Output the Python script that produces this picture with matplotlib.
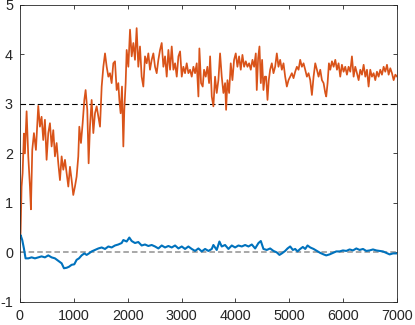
import numpy as np
import matplotlib
matplotlib.use('Agg')
import matplotlib.pyplot as plt

# ── Data ─────────────────────────────────────────────────────────────────
orange_x = [0, 12, 31, 50, 74, 93, 124, 155, 186, 204, 229, 260, 297, 340, 371,
            402, 433, 464, 495, 526, 557, 588, 619, 650, 681, 712, 743, 774, 805,
            836, 867, 898, 929, 960, 990, 1021, 1052, 1083, 1102, 1133, 1164,
            1195, 1219, 1250, 1275, 1300, 1331, 1362, 1393, 1424, 1455, 1486,
            1517, 1548, 1579, 1610, 1641, 1671, 1702, 1733, 1764, 1795, 1826,
            1845, 1869, 1894, 1919, 1937, 1962, 1981, 2012, 2043, 2074, 2105,
            2135, 2166, 2197, 2228, 2259, 2290, 2321, 2352, 2383, 2414, 2445,
            2476, 2507, 2538, 2569, 2600, 2631, 2662, 2693, 2724, 2755, 2786,
            2817, 2848, 2879, 2910, 2941, 2972, 3003, 3033, 3064, 3095, 3126,
            3157, 3188, 3219, 3250, 3281, 3312, 3330, 3361, 3392, 3417, 3448,
            3479, 3510, 3529, 3560, 3590, 3621, 3652, 3683, 3714, 3745, 3776,
            3807, 3826, 3851, 3882, 3912, 3943, 3974, 4005, 4036, 4067, 4098,
            4129, 4160, 4191, 4222, 4253, 4284, 4315, 4346, 4377, 4395, 4420,
            4445, 4470, 4494, 4519, 4544, 4569, 4594, 4618, 4643, 4674, 4705,
            4736, 4767, 4798, 4829, 4860, 4891, 4922, 4953, 4984, 5015, 5046,
            5077, 5108, 5139, 5170, 5201, 5232, 5263, 5294, 5325, 5356, 5387,
            5418, 5449, 5480, 5511, 5542, 5573, 5604, 5635, 5666, 5684, 5709,
            5734, 5759, 5790, 5821, 5852, 5883, 5913, 5944, 5975, 6006, 6037,
            6068, 6099, 6130, 6161, 6192, 6223, 6254, 6285, 6316, 6347, 6378,
            6409, 6440, 6470, 6501, 6532, 6563, 6594, 6625, 6656, 6687, 6718,
            6749, 6780, 6811, 6842, 6873, 6904, 6935, 6966, 7000]
orange_y = [0.30, 0.39, 1.33, 1.60, 2.40, 2.00, 2.85, 1.94, 1.33, 0.87, 2.07,
            2.41, 2.07, 2.96, 2.54, 2.74, 2.27, 2.68, 1.87, 2.41, 2.61, 2.14,
            2.47, 1.94, 2.21, 1.80, 1.46, 1.94, 1.67, 1.87, 1.60, 1.33, 1.73,
            1.46, 1.16, 1.33, 1.53, 1.94, 2.54, 2.21, 2.61, 3.08, 3.28, 2.88,
            1.80, 2.54, 3.08, 2.41, 2.81, 2.95, 2.74, 2.54, 3.35, 3.75, 4.02,
            3.75, 3.55, 3.62, 3.42, 3.82, 3.86, 3.28, 3.42, 3.08, 2.81, 3.35,
            2.14, 2.88, 3.42, 4.09, 3.75, 4.50, 3.96, 4.23, 3.89, 4.53, 3.75,
            4.16, 3.55, 3.35, 3.96, 3.82, 4.02, 3.69, 3.89, 4.02, 3.75, 3.62,
            3.89, 4.09, 4.23, 3.75, 3.96, 3.55, 4.09, 3.69, 4.16, 3.69, 3.82,
            3.55, 3.96, 4.06, 3.55, 3.75, 3.62, 3.82, 3.62, 3.69, 3.55, 3.75,
            3.62, 3.82, 3.15, 4.12, 3.42, 3.35, 3.69, 3.55, 3.75, 3.42, 3.96,
            3.15, 2.95, 3.55, 3.22, 3.48, 4.02, 3.55, 3.22, 3.42, 2.88, 3.48,
            3.22, 3.82, 3.48, 3.89, 4.02, 3.75, 3.96, 3.69, 3.99, 3.75, 3.86,
            3.75, 3.82, 3.69, 3.89, 3.75, 4.02, 3.28, 3.92, 4.16, 3.42, 3.89,
            3.28, 3.55, 3.55, 3.08, 3.48, 3.69, 3.82, 3.62, 3.75, 4.02, 3.75,
            3.89, 3.69, 3.82, 3.55, 3.35, 3.48, 3.55, 3.62, 3.52, 3.65, 3.75,
            3.69, 3.89, 3.75, 3.82, 3.69, 3.55, 3.62, 3.48, 3.18, 3.55, 3.82,
            3.69, 3.55, 3.69, 3.48, 3.42, 3.22, 3.15, 3.42, 3.82, 3.69, 3.86,
            3.75, 3.89, 3.69, 3.82, 3.55, 3.79, 3.65, 3.75, 3.59, 3.75, 3.65,
            3.96, 3.55, 3.75, 3.62, 3.48, 3.69, 3.59, 3.79, 3.55, 3.69, 3.35,
            3.69, 3.55, 3.62, 3.48, 3.65, 3.55, 3.69, 3.59, 3.75, 3.65, 3.79,
            3.59, 3.72, 3.62, 3.48, 3.59, 3.55]

blue_x = [0, 12, 43, 74, 105, 155, 217, 279, 341, 402, 464, 526, 588, 650, 712,
          774, 817, 867, 910, 960, 1009, 1052, 1096, 1145, 1195, 1238, 1281,
          1331, 1393, 1455, 1517, 1579, 1641, 1702, 1764, 1826, 1888, 1919,
          1981, 2030, 2074, 2135, 2197, 2259, 2321, 2383, 2445, 2507, 2569,
          2631, 2693, 2755, 2817, 2879, 2941, 3003, 3064, 3126, 3188, 3250,
          3312, 3374, 3436, 3498, 3560, 3590, 3652, 3702, 3745, 3807, 3869,
          3931, 3993, 4055, 4117, 4179, 4241, 4303, 4365, 4427, 4470, 4519,
          4581, 4643, 4705, 4767, 4816, 4860, 4922, 4966, 5015, 5065, 5108,
          5151, 5201, 5250, 5294, 5337, 5387, 5449, 5511, 5573, 5635, 5684,
          5746, 5808, 5870, 5932, 5994, 6056, 6118, 6180, 6242, 6304, 6366,
          6427, 6489, 6551, 6613, 6675, 6737, 6799, 6861, 6923, 7000]
blue_y = [0.30, 0.35, 0.25, 0.08, -0.12, -0.12, -0.10, -0.12, -0.10, -0.08,
          -0.10, -0.06, -0.10, -0.12, -0.17, -0.22, -0.32, -0.31, -0.29, -0.25,
          -0.24, -0.15, -0.12, -0.06, -0.02, -0.05, -0.02, 0.02, 0.05, 0.08,
          0.10, 0.07, 0.12, 0.10, 0.14, 0.16, 0.19, 0.25, 0.22, 0.30, 0.23,
          0.19, 0.21, 0.14, 0.16, 0.13, 0.15, 0.12, 0.08, 0.14, 0.10, 0.13,
          0.10, 0.14, 0.08, 0.12, 0.07, 0.12, 0.07, 0.03, 0.08, 0.02, 0.07,
          0.03, 0.07, 0.15, 0.05, 0.22, 0.12, 0.15, 0.07, 0.14, 0.10, 0.14,
          0.12, 0.15, 0.12, 0.16, 0.08, 0.19, 0.23, 0.07, 0.05, 0.08, 0.03,
          0.00, -0.05, -0.02, 0.03, 0.08, 0.12, 0.05, 0.07, 0.02, 0.07, 0.11,
          0.07, 0.14, 0.10, 0.07, 0.03, -0.01, -0.04, -0.06, -0.04, -0.01,
          0.02, 0.02, 0.04, 0.03, 0.06, 0.04, 0.08, 0.05, 0.07, 0.03, 0.04,
          0.06, 0.04, 0.03, 0.02, -0.01, -0.04, -0.02, -0.02]

ref_levels = [3, 0]

# ── Figure ───────────────────────────────────────────────────────────────
plt.rcParams['font.family'] = ['Liberation Sans', 'DejaVu Sans']
plt.rcParams['lines.scale_dashes'] = False
plt.rcParams['axes.unicode_minus'] = False

fig = plt.figure(figsize=(4.15, 3.25), dpi=100)
ax = fig.add_axes([0.048, 0.071, 0.909, 0.914])

ax.axhline(ref_levels[0], color='black', lw=0.8, dashes=(4, 2.2))
ax.axhline(ref_levels[1], color='#999999', lw=1.2, dashes=(4, 2.2))
ax.plot(orange_x, orange_y, color='#D95319', lw=1.25)
ax.plot(blue_x, blue_y, color='#0072BD', lw=1.5)

ax.set_xlim(0, 7000)
ax.set_ylim(-1, 5)
ax.set_xticks(np.arange(0, 7001, 1000))
ax.set_yticks(np.arange(-1, 6, 1))
ax.tick_params(direction='in', length=2.7, width=0.6, colors='#262626',
               labelsize=10.4, pad=5, top=True, right=True)
for s in ax.spines.values():
    s.set_color('#262626')
    s.set_linewidth(0.6)

plt.savefig('out.png', dpi=100)
